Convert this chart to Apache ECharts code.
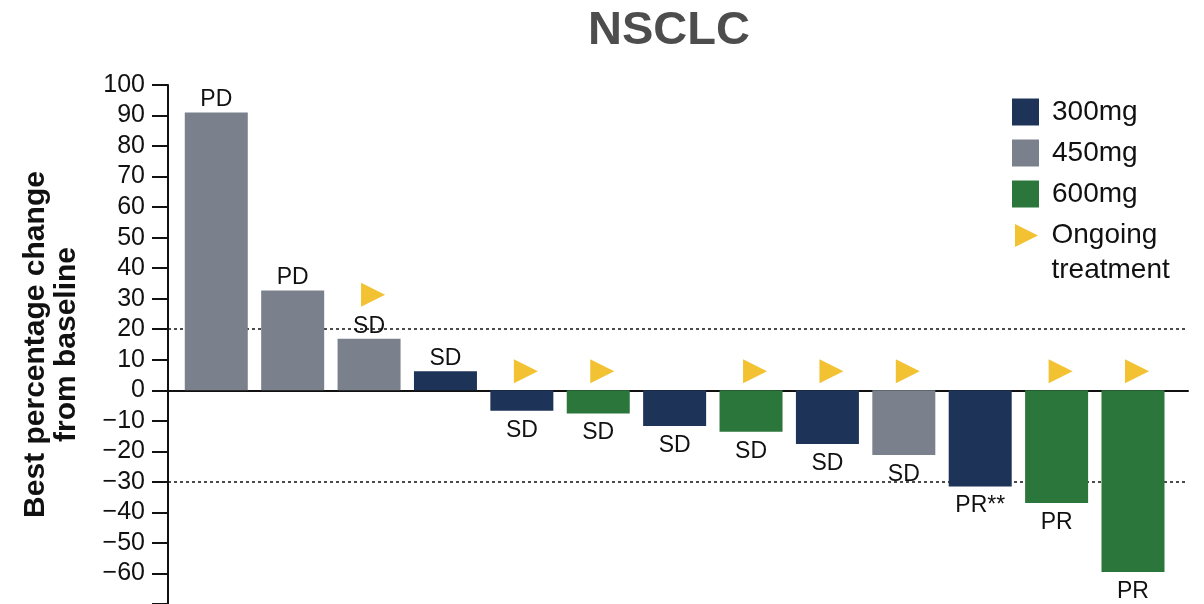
<!DOCTYPE html>
<html>
<head>
<meta charset="utf-8">
<script src="https://cdn.jsdelivr.net/npm/echarts@6/dist/echarts.min.js"></script>
<style>
  html, body { margin: 0; padding: 0; background: #ffffff; }
  #chart { width: 1204px; height: 604px; }
</style>
</head>
<body>
<div id="chart"></div>
<script>
// Best percentage change from baseline, one bar per patient (waterfall order)
const doses     = ['450mg', '450mg', '450mg', '300mg', '300mg', '600mg', '300mg', '600mg', '300mg', '450mg', '300mg', '600mg', '600mg'];
const changes   = [91, 32.7, 16.9, 6.2, -6.7, -7.6, -11.7, -13.6, -17.6, -21.2, -31.5, -36.9, -59.5];
const responses = ['PD', 'PD', 'SD', 'SD', 'SD', 'SD', 'SD', 'SD', 'SD', 'SD', 'PR**', 'PR', 'PR'];
const ongoing   = [false, false, true, false, true, true, false, true, true, true, false, true, true];

const doseLevels = ['300mg', '450mg', '600mg'];
const doseColors = { '300mg': '#1e3358', '450mg': '#7b818c', '600mg': '#2b763b' };
const ongoingName = 'Ongoing\ntreatment';
const thresholds = [20, -30];   // progression / response cut-offs

const FONT = '"Liberation Sans", Arial, Helvetica, sans-serif';
const INK = '#111111';

const barSeries = doseLevels.map(d => ({
  name: d,
  type: 'bar',
  barWidth: 63,
  barGap: '-100%',
  z: 2,
  itemStyle: { color: doseColors[d] },
  label: { show: true, fontSize: 23, color: INK, fontFamily: FONT },
  data: changes
    .map((v, i) => doses[i] === d ? {
      value: [i, v],
      label: { position: v >= 0 ? 'top' : 'bottom', distance: v >= 0 ? 1 : 8, formatter: responses[i] }
    } : null)
    .filter(Boolean)
}));

const ongoingSeries = {
  name: ongoingName,
  type: 'scatter',
  symbol: 'triangle',
  symbolRotate: -90,
  symbolSize: 24,
  z: 3,
  itemStyle: { color: '#efb300' },
  data: changes
    .map((v, i) => ongoing[i] ? {
      value: [i, Math.max(v, 0)],
      symbolOffset: [4, v > 0 ? -44 : -19]
    } : null)
    .filter(Boolean),
  markLine: {
    silent: true,
    z: 1,
    symbol: 'none',
    label: { show: false },
    lineStyle: { type: [3, 3], color: INK, width: 1.5 },
    data: thresholds.map(t => ({ yAxis: t }))
  }
};

const chart = echarts.init(document.getElementById('chart'), null, { renderer: 'canvas' });
chart.setOption({
  animation: false,
  textStyle: { fontFamily: FONT },
  title: {
    text: 'NSCLC',
    left: 669,
    top: 8,
    textAlign: 'center',
    padding: 0,
    textStyle: { fontSize: 47, fontWeight: 'bold', color: '#4d4d4d', fontFamily: FONT }
  },
  legend: [
    {
      data: doseLevels.map(n => ({ name: n, icon: 'rect' })),
      orient: 'vertical',
      left: 1012,
      top: 98,
      padding: 0,
      itemWidth: 27,
      itemHeight: 27,
      itemGap: 13,
      selectedMode: false,
      textStyle: { fontSize: 28, color: INK, lineHeight: 27, padding: [0, 0, 0, 8], fontFamily: FONT }
    },
    {
      data: [{ name: ongoingName, icon: 'path://M0,0L24,12L0,24Z' }],
      orient: 'vertical',
      left: 1015,
      top: 183,
      padding: 0,
      itemWidth: 24,
      itemHeight: 23,
      symbolRotate: 0,
      selectedMode: false,
      // a blank first line keeps "Ongoing" level with the marker
      formatter: name => ' \n' + name,
      textStyle: { fontSize: 28, color: INK, lineHeight: 35, padding: [0, 0, 0, 8], fontFamily: FONT }
    }
  ],
  grid: { left: 168, right: 16, top: 85, bottom: -6, containLabel: false },
  xAxis: {
    type: 'value',
    min: -0.632,
    max: 12.72,
    axisLine: { show: true, onZero: true, lineStyle: { color: INK, width: 2 } },
    axisTick: { show: false },
    axisLabel: { show: false },
    splitLine: { show: false }
  },
  yAxis: {
    type: 'value',
    min: -70,
    max: 100,
    interval: 10,
    axisLine: { show: true, onZero: false, lineStyle: { color: INK, width: 2 } },
    axisTick: { show: true, length: 16, lineStyle: { color: INK, width: 2 } },
    axisLabel: {
      fontSize: 25,
      color: INK,
      margin: 23,
      fontFamily: FONT,
      formatter: v => (v === -70 ? '' : String(v).replace('-', '\u2212'))
    },
    splitLine: { show: false },
    name: 'Best percentage change\nfrom baseline',
    nameLocation: 'middle',
    nameGap: 86,
    nameTextStyle: { fontSize: 30, fontWeight: 'bold', color: INK, lineHeight: 31, fontFamily: FONT }
  },
  series: [...barSeries, ongoingSeries]
});
</script>
</body>
</html>
